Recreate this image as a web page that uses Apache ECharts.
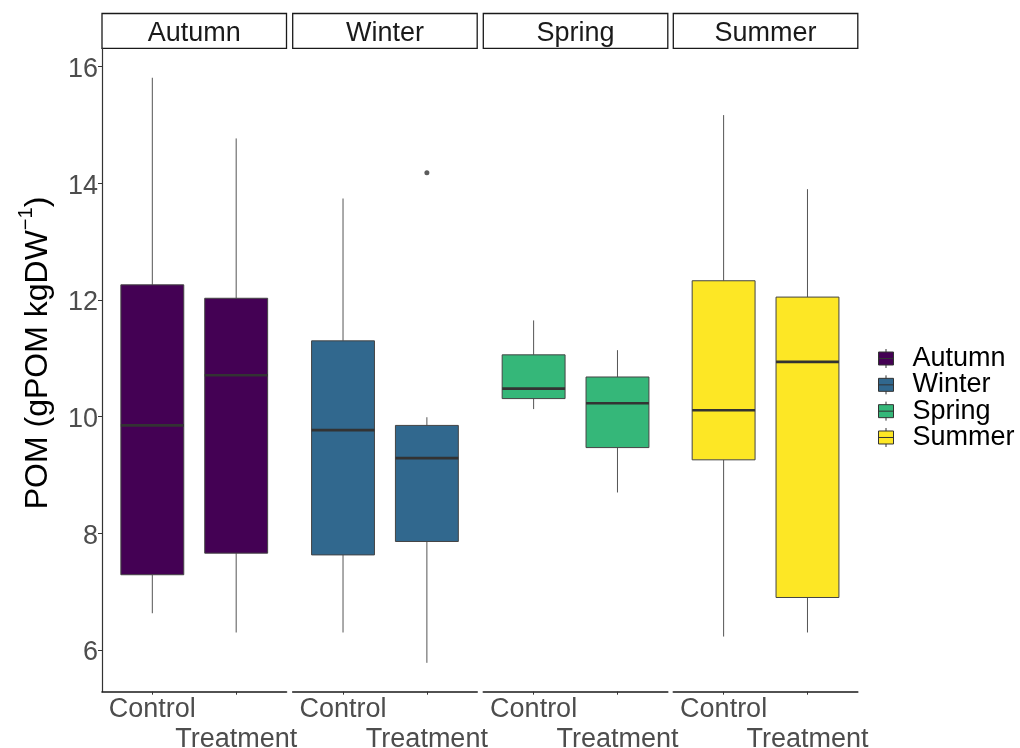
<!DOCTYPE html>
<html>
<head>
<meta charset="utf-8">
<title>POM by season and treatment</title>
<script src="https://cdn.jsdelivr.net/npm/echarts@6/dist/echarts.min.js"></script>
<style>
  html, body { margin: 0; padding: 0; background: #fff; }
  #chart { width: 1020px; height: 748px; }
</style>
</head>
<body>
<div id="chart"></div>
<script>
// Facets (seasons), groups within each facet and fill colours
const seasons = ['Autumn', 'Winter', 'Spring', 'Summer'];
const groups = ['Control', 'Treatment'];
const seasonColors = ['#440154', '#31688E', '#35B779', '#FDE725'];

// Box statistics per group: [lower whisker, Q1, median, Q3, upper whisker]
const autumnStats = [[6.63, 7.29, 9.85, 12.26, 15.81], [6.30, 7.66, 10.71, 12.03, 14.77]];
const winterStats = [[6.30, 7.63, 9.77, 11.30, 13.74], [5.78, 7.86, 9.29, 9.85, 9.99]];
const springStats = [[10.13, 10.31, 10.48, 11.06, 11.65], [8.70, 9.47, 10.23, 10.68, 11.14]];
const summerStats = [[6.23, 9.26, 10.11, 12.33, 15.17], [6.30, 6.90, 10.94, 12.05, 13.90]];
const seasonStats = [autumnStats, winterStats, springStats, summerStats];

// Outlying points: [season index, group, value]
const outliers = [[1, 'Treatment', 14.18]];

// Y axis
const yTicks = [6, 8, 10, 12, 14, 16];
const yMin = 5.285, yMax = 16.315;

// Layout
const panelLeft = [102, 292.7, 483.3, 673.3];
const panelWidth = 184.5;
const panelTop = 48.3;
const panelHeight = 643.4;
const stripTop = 13.5;
const boxWidth = 0.75;
const fontFamily = '"Liberation Sans", Arial, sans-serif';
const labelStyle = { fontFamily, fontSize: 27, color: '#4d4d4d', lineHeight: 28 };

const chart = echarts.init(document.getElementById('chart'), null, { renderer: 'canvas' });

const grids = [], xAxes = [], yAxes = [], series = [], graphics = [];

seasons.forEach((season, i) => {
  grids.push({
    left: panelLeft[i], top: panelTop, width: panelWidth, height: panelHeight,
    containLabel: false, outerBoundsMode: 'none'
  });

  // Group labels are dodged onto two rows: one axis per row, sharing the same scale
  groups.forEach((g, k) => {
    xAxes.push({
      type: 'value', gridIndex: i, min: 0.4, max: 2.6, position: 'bottom',
      splitLine: { show: false },
      axisLine: { show: k === 0, onZero: false, lineStyle: { color: '#1a1a1a', width: 1.6 } },
      axisTick: { show: k === 0, customValues: [1, 2], length: 3, lineStyle: { color: '#333', width: 1 } },
      axisLabel: Object.assign({
        show: true, customValues: [k + 1], margin: 4 + 30 * k,
        formatter: v => groups[Math.round(v) - 1]
      }, labelStyle)
    });
  });

  const first = i === 0;
  yAxes.push({
    type: 'value', gridIndex: i, min: yMin, max: yMax,
    splitLine: { show: false },
    axisLine: { show: first, lineStyle: { color: '#333', width: 1.2 } },
    axisTick: { show: first, customValues: yTicks, length: 4, lineStyle: { color: '#333' } },
    axisLabel: {
      show: first, customValues: yTicks, margin: 4,
      formatter: v => '{v|' + v + '}',
      rich: { v: { fontFamily, fontSize: 27, color: '#4d4d4d', lineHeight: 30, padding: [6, 0, 0, 0] } }
    },
    name: first ? '{t|POM (gPOM kgDW}{s|−1}{t|)}' : '',
    nameLocation: 'middle', nameRotate: 90, nameGap: 48,
    nameTextStyle: {
      padding: [0, 0, 0, 34],
      rich: {
        t: { fontFamily, fontSize: 32, color: '#000', lineHeight: 38, verticalAlign: 'bottom' },
        s: { fontFamily, fontSize: 20, color: '#000', lineHeight: 38, verticalAlign: 'top', padding: [0, 0, 8, 0] }
      }
    }
  });

  const color = seasonColors[i];
  series.push({
    type: 'custom', name: season, xAxisIndex: i * 2, yAxisIndex: i,
    itemStyle: { color },
    encode: { x: 0, y: [1, 2, 3, 4, 5] },
    data: seasonStats[i].map((s, g) => [g + 1].concat(s)),
    renderItem: (params, api) => {
      const x = api.value(0);
      const cx = api.coord([x, api.value(3)])[0];
      const yv = [1, 2, 3, 4, 5].map(d => api.coord([x, api.value(d)])[1]);
      const half = api.size([boxWidth, 0])[0] / 2;
      return {
        type: 'group',
        children: [
          { type: 'line', shape: { x1: cx, y1: yv[3], x2: cx, y2: yv[4] }, style: { stroke: '#555', lineWidth: 1 } },
          { type: 'line', shape: { x1: cx, y1: yv[0], x2: cx, y2: yv[1] }, style: { stroke: '#555', lineWidth: 1 } },
          { type: 'rect', shape: { x: cx - half, y: yv[3], width: half * 2, height: yv[1] - yv[3] },
            style: { fill: color, stroke: '#444', lineWidth: 1 } },
          { type: 'line', shape: { x1: cx - half, y1: yv[2], x2: cx + half, y2: yv[2] },
            style: { stroke: '#333', lineWidth: 2.6 } }
        ]
      };
    }
  });

  const pts = outliers.filter(o => o[0] === i).map(o => [groups.indexOf(o[1]) + 1, o[2]]);
  if (pts.length) {
    series.push({
      type: 'scatter', name: season + ' outliers', xAxisIndex: i * 2, yAxisIndex: i,
      symbolSize: 5, itemStyle: { color: '#333' }, data: pts, z: 3
    });
  }

  // Facet strip
  graphics.push({
    type: 'group',
    children: [
      { type: 'rect', shape: { x: panelLeft[i], y: stripTop, width: panelWidth, height: panelTop - stripTop },
        style: { fill: '#fff', stroke: '#1a1a1a', lineWidth: 1.3 } },
      { type: 'text', x: panelLeft[i] + panelWidth / 2, y: (stripTop + panelTop) / 2 + 3,
        style: { text: season, fontFamily, fontSize: 27, fill: '#1a1a1a', align: 'center', verticalAlign: 'middle' } }
    ]
  });
});

// Legend key: a small box with whisker stubs and a median bar
const keyIcon = 'path://M0,3H15V16H0Z M7.5,0V3 M7.5,16V19 M0,9.5H15';

chart.setOption({
  animation: false,
  backgroundColor: '#fff',
  grid: grids,
  xAxis: xAxes,
  yAxis: yAxes,
  series,
  graphic: graphics,
  legend: {
    orient: 'vertical', left: 873, top: 340, selectedMode: false,
    itemWidth: 15, itemHeight: 19, itemGap: -0.67,
    textStyle: { fontFamily, fontSize: 27, color: '#000', lineHeight: 25.3, padding: [0, 0, 0, 14] },
    data: seasons.map((name, i) => ({
      name, icon: keyIcon,
      itemStyle: { color: seasonColors[i], borderColor: '#333', borderWidth: 1 }
    }))
  }
});
</script>
</body>
</html>
